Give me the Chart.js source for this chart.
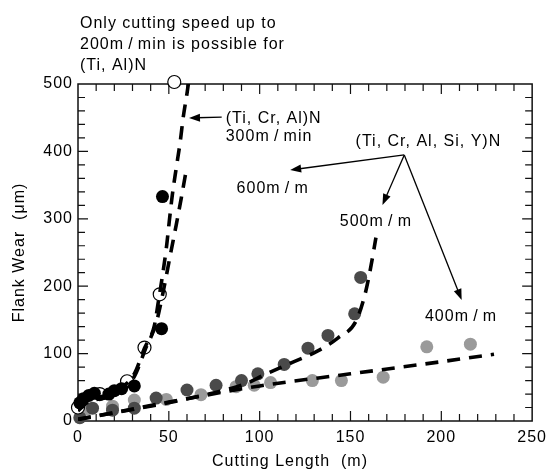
<!DOCTYPE html>
<html>
<head>
<meta charset="utf-8">
<script src="https://cdn.jsdelivr.net/npm/chart.js@4.4.0/dist/chart.umd.min.js"></script>
<style>
  html, body { margin: 0; padding: 0; background: #fff; }
  canvas { display: block; }
</style>
</head>
<body>
<canvas id="wear" width="554" height="473"></canvas>
<script>
// axis ticks
var xTicks = [0, 50, 100, 150, 200, 250];
var yTicks = [0, 100, 200, 300, 400, 500];

// measured points, cutting length (m) vs flank wear (um)
// (Ti, Al)N 200 m/min - open circles
var tiAlLen  = [0, 12, 27, 36.6, 45, 53];
var tiAlWear = [20, 40, 59, 109, 188, 503];
// (Ti, Cr, Al)N 300 m/min - black
var tiCrAlLen  = [1, 3, 6, 9, 17, 20, 24, 31, 46, 46.5];
var tiCrAlWear = [27, 33, 38, 41, 40, 45, 48, 52, 137, 333];
// (Ti, Cr, Al, Si, Y)N 500 m/min - dark grey
var y500Len  = [1, 8, 19, 31, 43, 60, 76, 90, 99, 113.5, 126.6, 137.6, 152.3, 155.6];
var y500Wear = [5, 19, 16, 19, 34, 46, 53, 60, 70, 84, 108, 127, 159, 213];
// (Ti, Cr, Al, Si, Y)N 400 m/min - light grey
var y400Len  = [5, 19, 31, 48.6, 67.7, 87, 97, 106, 129, 145, 168, 192, 216];
var y400Wear = [18, 22, 31, 32, 39, 51, 53, 57, 60, 60, 65, 110, 114];

// dashed trend curves
var fitTiCrAlLen  = [0, 5, 19, 31, 36.6, 42, 44, 48.6, 50.2, 51.9, 54, 56.2, 57.9, 60, 61];
var fitTiCrAlWear = [20, 30, 42, 70, 108, 141, 173, 256, 295, 335, 374, 413, 450, 486, 505];
var fitTiAlLen  = [0, 5, 19, 31, 37, 43, 46, 51.3, 54, 56.8, 59.5];
var fitTiAlWear = [15, 27, 38, 66, 106, 145, 180, 253, 290, 330, 371];
var fit500Len  = [0, 30, 60, 92, 103, 118, 132, 143, 153, 158, 161, 164];
var fit500Wear = [3, 17, 33, 55, 69, 87, 104, 123, 148, 188, 226, 272];
var fit400Len  = [0, 50, 100, 150, 200, 229];
var fit400Wear = [2, 28, 52, 70, 88, 99];

function pts(xs, ys) {
  var out = [];
  for (var i = 0; i < xs.length; i++) out.push({x: xs[i], y: ys[i]});
  return out;
}

function pointSet(xs, ys, fill, border, order) {
  return {
    data: pts(xs, ys), showLine: false, order: order, clip: false,
    pointRadius: 6.5, pointHoverRadius: 6.5,
    backgroundColor: fill, borderColor: border, borderWidth: border == fill ? 0 : 1.2
  };
}

function curveSet(xs, ys) {
  return {
    data: pts(xs, ys), showLine: true, order: 0, pointRadius: 0,
    borderColor: '#000', borderWidth: 3.6, borderDash: [13, 9],
    cubicInterpolationMode: 'monotone', fill: false
  };
}

// texts and arrows, placed in data units
var notes = [
  {t: 'Only cutting speed up to', x: 1.1, y: 583},
  {t: '200m\u2009/\u2009min is possible for', x: 1.1, y: 552},
  {t: '(Ti, Al)N', x: 1.1, y: 521},
  {t: '(Ti, Cr, Al)N', x: 81.3, y: 442},
  {t: '300m\u2009/\u2009min', x: 81.3, y: 415},
  {t: '(Ti, Cr, Al, Si, Y)N', x: 152.8, y: 408},
  {t: '600m\u2009/\u2009m', x: 87.3, y: 338},
  {t: '500m\u2009/\u2009m', x: 144.1, y: 289},
  {t: '400m\u2009/\u2009m', x: 191, y: 148.4}
];
var arrows = [
  [79.1, 451, 61.1, 449.6],
  [179.6, 394.7, 116.8, 372.4],
  [179.6, 394.7, 167.6, 320.5],
  [179.6, 394.7, 211.2, 179.5]
];

function drawArrow(ctx, x1, y1, x2, y2) {
  var a = Math.atan2(y2 - y1, x2 - x1), L = 11, W = 4;
  ctx.beginPath();
  ctx.moveTo(x1, y1);
  ctx.lineTo(x2 - L * 0.7 * Math.cos(a), y2 - L * 0.7 * Math.sin(a));
  ctx.stroke();
  ctx.beginPath();
  ctx.moveTo(x2, y2);
  ctx.lineTo(x2 - L * Math.cos(a) + W * Math.sin(a), y2 - L * Math.sin(a) - W * Math.cos(a));
  ctx.lineTo(x2 - L * Math.cos(a) - W * Math.sin(a), y2 - L * Math.sin(a) + W * Math.cos(a));
  ctx.closePath();
  ctx.fill();
}

var framePlugin = {
  id: 'frame',
  beforeUpdate: function(chart) { chart.ctx.letterSpacing = '1px'; },
  beforeDatasetsDraw: function(chart) {
    var ctx = chart.ctx, a = chart.chartArea, sx = chart.scales.x, sy = chart.scales.y;
    ctx.save();
    ctx.strokeStyle = '#111';
    ctx.lineWidth = 1.5;
    ctx.strokeRect(a.left, a.top, a.right - a.left, a.bottom - a.top);
    ctx.lineWidth = 1.2;
    ctx.beginPath();
    for (var v = 10; v < 250; v += 10) {
      var px = sx.getPixelForValue(v), len = v % 50 == 0 ? 10 : 7;
      ctx.moveTo(px, a.bottom); ctx.lineTo(px, a.bottom - len);
      ctx.moveTo(px, a.top); ctx.lineTo(px, a.top + len);
    }
    for (var w = 20; w < 500; w += 20) {
      var py = sy.getPixelForValue(w), l2 = w % 100 == 0 ? 10 : 7;
      ctx.moveTo(a.left, py); ctx.lineTo(a.left + l2, py);
      ctx.moveTo(a.right, py); ctx.lineTo(a.right - l2, py);
    }
    ctx.stroke();
    ctx.restore();
  },
  afterDraw: function(chart) {
    var ctx = chart.ctx, a = chart.chartArea, sx = chart.scales.x, sy = chart.scales.y;
    ctx.save();
    ctx.letterSpacing = '1px';
    ctx.fillStyle = '#000';
    ctx.strokeStyle = '#000';
    ctx.font = '16px "Liberation Sans", Arial, sans-serif';
    ctx.textBaseline = 'alphabetic';
    ctx.textAlign = 'left';
    notes.forEach(function(n) {
      ctx.fillText(n.t, sx.getPixelForValue(n.x), sy.getPixelForValue(n.y));
    });
    ctx.lineWidth = 1.3;
    arrows.forEach(function(r) {
      drawArrow(ctx, sx.getPixelForValue(r[0]), sy.getPixelForValue(r[1]),
                sx.getPixelForValue(r[2]), sy.getPixelForValue(r[3]));
    });
    // axis titles
    ctx.textAlign = 'center';
    ctx.textBaseline = 'middle';
    ctx.fillText('Cutting Length  (m)', a.left + 212, 462);
    ctx.translate(20, (a.top + a.bottom) / 2);
    ctx.rotate(-Math.PI / 2);
    ctx.fillText('Flank Wear  (\u03bcm)', 0, 0);
    ctx.restore();
  }
};

Chart.defaults.font.family = '"Liberation Sans", Arial, sans-serif';
Chart.defaults.font.size = 16;
Chart.defaults.color = '#000';

var ctx = document.getElementById('wear');
var chart = new Chart(ctx, {
  type: 'scatter',
  data: {
    datasets: [
      curveSet(fitTiAlLen, fitTiAlWear),
      curveSet(fitTiCrAlLen, fitTiCrAlWear),
      curveSet(fit500Len, fit500Wear),
      curveSet(fit400Len, fit400Wear),
      pointSet(tiCrAlLen, tiCrAlWear, '#000000', '#000000', 1),
      pointSet(tiAlLen, tiAlWear, '#ffffff', '#000000', 2),
      pointSet(y500Len, y500Wear, '#4a4a4a', '#4a4a4a', 3),
      pointSet(y400Len, y400Wear, '#9a9a9a', '#9a9a9a', 4)
    ]
  },
  options: {
    responsive: false,
    animation: false,
    events: [],
    layout: { padding: { top: 84, right: 18, left: 0, bottom: 0 } },
    plugins: { legend: { display: false }, tooltip: { enabled: false } },
    scales: {
      x: {
        type: 'linear',
        min: xTicks[0], max: xTicks[xTicks.length - 1],
        afterFit: function(s) { s.height = 52; },
        afterBuildTicks: function(s) { s.ticks = xTicks.map(function(v) { return {value: v}; }); },
        grid: { display: false, drawTicks: false },
        border: { display: false },
        ticks: { padding: 7, maxRotation: 0 }
      },
      y: {
        type: 'linear',
        min: yTicks[0], max: yTicks[yTicks.length - 1],
        afterFit: function(s) { s.width = 78; },
        afterBuildTicks: function(s) { s.ticks = yTicks.map(function(v) { return {value: v}; }); },
        grid: { display: false, drawTicks: false },
        border: { display: false },
        ticks: { padding: 5 }
      }
    }
  },
  plugins: [framePlugin]
});
</script>
</body>
</html>
